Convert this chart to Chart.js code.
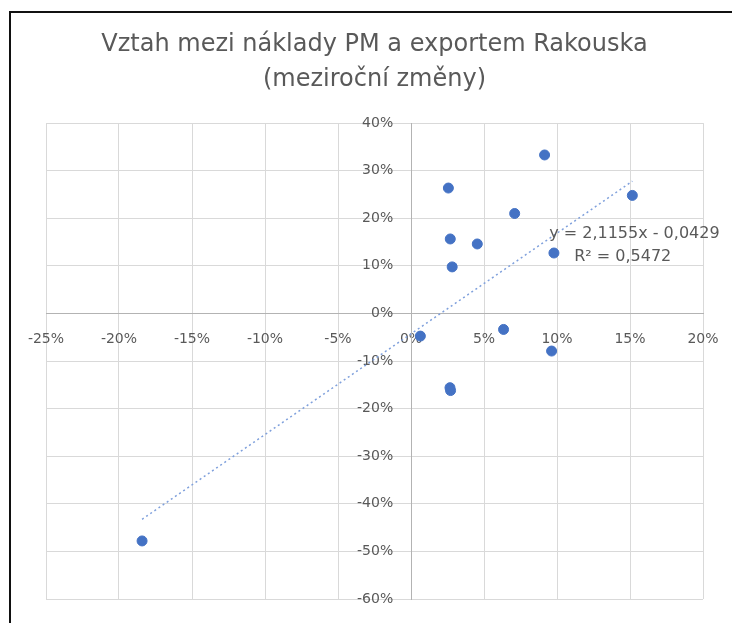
<!DOCTYPE html>
<html>
<head>
<meta charset="utf-8">
<script src="https://cdn.jsdelivr.net/npm/chart.js@4.4.1/dist/chart.umd.min.js"></script>
<style>
  html, body { margin: 0; padding: 0; background: #fff; }
  #wrap { width: 732px; height: 623px; }
</style>
</head>
<body>
<div id="wrap"><canvas id="chart"></canvas></div>
<script>
// mezirocni zmeny - naklady PM (x) a export Rakouska (y)
var costChange = [0.0256, 0.0269, 0.0282, 0.0454, 0.0710, 0.0915, 0.0979, 0.1516, 0.0064, 0.0634, 0.0963, 0.0267, 0.0271, -0.1842];
var exportChange = [0.2635, 0.1565, 0.0978, 0.1460, 0.2100, 0.3330, 0.1270, 0.2480, -0.0476, -0.0336, -0.0790, -0.1560, -0.1620, -0.4780];

// linearni trend z Excelu
var trendSlope = 2.1155;
var trendIntercept = -0.0429;
var trendLabel = ["y = 2,1155x - 0,0429", "R\u00b2 = 0,5472"];

var titleLines = ["Vztah mezi náklady PM a exportem Rakouska", "(meziroční změny)"];

var grey = '#595959';
var fontFam = "'DejaVu Sans', sans-serif";

var points = costChange.map(function (x, i) { return {x: x, y: exportChange[i]}; });
var xMin = Math.min.apply(null, costChange);
var xMax = Math.max.apply(null, costChange);
var trend = [
  {x: xMin, y: trendSlope * xMin + trendIntercept},
  {x: xMax, y: trendSlope * xMax + trendIntercept}
];

function pct(v) {
  return Math.round(v * 100) + '%';
}

// ramecek a popisek trendu
var extras = {
  id: 'extras',
  afterDatasetsDraw: function (chart) {
    var ctx = chart.ctx;
    var xs = chart.scales.x, ys = chart.scales.y;
    ctx.save();
    ctx.fillStyle = grey;
    ctx.font = "16px " + fontFam;
    ctx.textAlign = 'center';
    ctx.textBaseline = 'middle';
    ctx.fillText(trendLabel[0], xs.getPixelForValue(0.153), ys.getPixelForValue(0.168));
    ctx.fillText(trendLabel[1], xs.getPixelForValue(0.145), ys.getPixelForValue(0.118));
    ctx.restore();
  },
  afterDraw: function (chart) {
    var ctx = chart.ctx;
    ctx.save();
    ctx.strokeStyle = '#111';
    ctx.lineWidth = 2;
    ctx.beginPath();
    ctx.moveTo(10, 623);
    ctx.lineTo(10, 12);
    ctx.lineTo(732, 12);
    ctx.stroke();
    ctx.restore();
  }
};

var config = {
  type: 'scatter',
  data: {
    datasets: [{
      label: 'Export',
      data: points,
      backgroundColor: '#4472c4',
      borderColor: '#4472c4',
      pointRadius: 5,
      pointHoverRadius: 5
    }, {
      label: 'Trend',
      type: 'line',
      data: trend,
      borderColor: '#7fa0dc',
      borderWidth: 1.5,
      borderDash: [2, 3],
      pointRadius: 0,
      fill: false
    }]
  },
  options: {
    responsive: false,
    animation: false,
    layout: {
      padding: {left: 46, right: 29, top: 0, bottom: 24}
    },
    plugins: {
      legend: {display: false},
      tooltip: {enabled: false},
      title: {
        display: true,
        text: titleLines,
        color: grey,
        font: {family: fontFam, size: 24, weight: 'normal', lineHeight: 1.46},
        padding: {top: 27, bottom: 26}
      }
    },
    scales: {
      x: {
        type: 'linear',
        position: {y: 0},
        min: -0.25,
        max: 0.2,
        afterFit: function (scale) {
          // popisek 20% smi presahovat doprava
          scale.paddingLeft = 0;
          scale.paddingRight = 0;
        },
        ticks: {
          stepSize: 0.05,
          color: grey,
          padding: 18,
          font: {family: fontFam, size: 14},
          callback: function (v) { return pct(v); }
        },
        grid: {color: '#d9d9d9', drawTicks: false},
        border: {color: '#b3b3b3'}
      },
      y: {
        type: 'linear',
        position: {x: 0},
        min: -0.6,
        max: 0.4,
        ticks: {
          stepSize: 0.1,
          color: grey,
          font: {family: fontFam, size: 14},
          // popisky kousek vlevo od osy
          callback: function (v) { return pct(v) + '    '; }
        },
        grid: {color: '#d9d9d9', drawTicks: false},
        border: {color: '#b3b3b3'}
      }
    }
  },
  plugins: [extras]
};

window.onload = function () {
  var canvas = document.getElementById('chart');
  canvas.width = 732;
  canvas.height = 623;
  var ctx = canvas.getContext('2d');
  window.myScatter = new Chart(ctx, config);
};
</script>
</body>
</html>
